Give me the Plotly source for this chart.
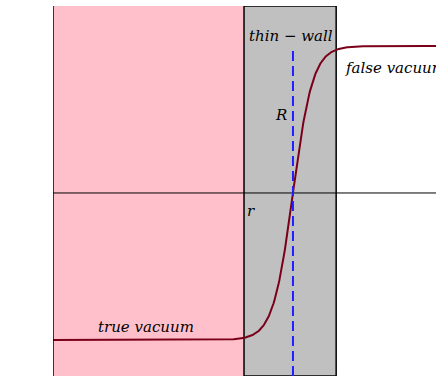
import numpy as np
import plotly.graph_objects as go

# Radial coordinate and bubble-wall parameters
R = 10.0            # bubble radius
wall_left = 7.96    # inner edge of the thin wall
wall_right = 11.8   # outer edge of the thin wall
wall_width = 0.83   # tanh width of the profile
x_max = 15.96

# Field profile: true vacuum (-1) inside, false vacuum (+1) outside
r = np.linspace(0, x_max, 600)
phi = np.tanh((r - R) / wall_width)

y_min, y_max = -1.245, 1.272

label_font = dict(family="DejaVu Serif", size=15, color="black", style="italic")

fig = go.Figure()

fig.add_trace(go.Scatter(x=r, y=phi, mode="lines",
                         line=dict(color="#7a0019", width=2), showlegend=False,
                         hoverinfo="skip"))

shapes = [
    # true-vacuum interior
    dict(type="rect", xref="x", yref="y", x0=0, x1=wall_left, y0=y_min, y1=y_max,
         fillcolor="#ffc0cb", line=dict(width=0), layer="below"),
    # thin wall region
    dict(type="rect", xref="x", yref="y", x0=wall_left, x1=wall_right, y0=y_min, y1=y_max,
         fillcolor="#c0c0c0", line=dict(color="black", width=1.5), layer="below"),
    # vertical axis
    dict(type="line", xref="x", yref="y", x0=0, x1=0, y0=y_min, y1=y_max,
         line=dict(color="black", width=1.5)),
    # horizontal axis
    dict(type="line", xref="x", yref="y", x0=0, x1=x_max, y0=0, y1=0,
         line=dict(color="black", width=1)),
    # bubble radius marker
    dict(type="line", xref="x", yref="y", x0=R, x1=R, y0=y_min, y1=0.97,
         line=dict(color="#1f1fff", width=2, dash="10px,5px")),
]

annotations = [
    dict(x=R - 0.1, y=1.07, text="thin − wall", showarrow=False, xanchor="center",
         yanchor="middle", font=label_font),
    dict(x=-0.95, y=0.63, text="φ<sub>c</sub>", showarrow=False, xanchor="center",
         yanchor="middle", font=dict(family="DejaVu Sans", size=15, color="black")),
    dict(x=R - 0.5, y=0.53, text="R", showarrow=False, xanchor="center",
         yanchor="middle", font=label_font),
    dict(x=wall_left + 0.3, y=-0.12, text="r", showarrow=False, xanchor="center",
         yanchor="middle", font=label_font),
    dict(x=12.1, y=0.85, text="false vacuum", showarrow=False, xanchor="left",
         yanchor="middle", font=label_font),
    dict(x=3.87, y=-0.91, text="true vacuum", showarrow=False, xanchor="center",
         yanchor="middle", font=label_font),
]

fig.update_layout(
    width=436, height=376,
    margin=dict(l=53, r=0, t=6, b=0),
    paper_bgcolor="white", plot_bgcolor="white",
    xaxis=dict(range=[0, x_max], visible=False, fixedrange=True),
    yaxis=dict(range=[y_min, y_max], visible=False, fixedrange=True),
    shapes=shapes, annotations=annotations,
)

fig.write_html("out.html")
